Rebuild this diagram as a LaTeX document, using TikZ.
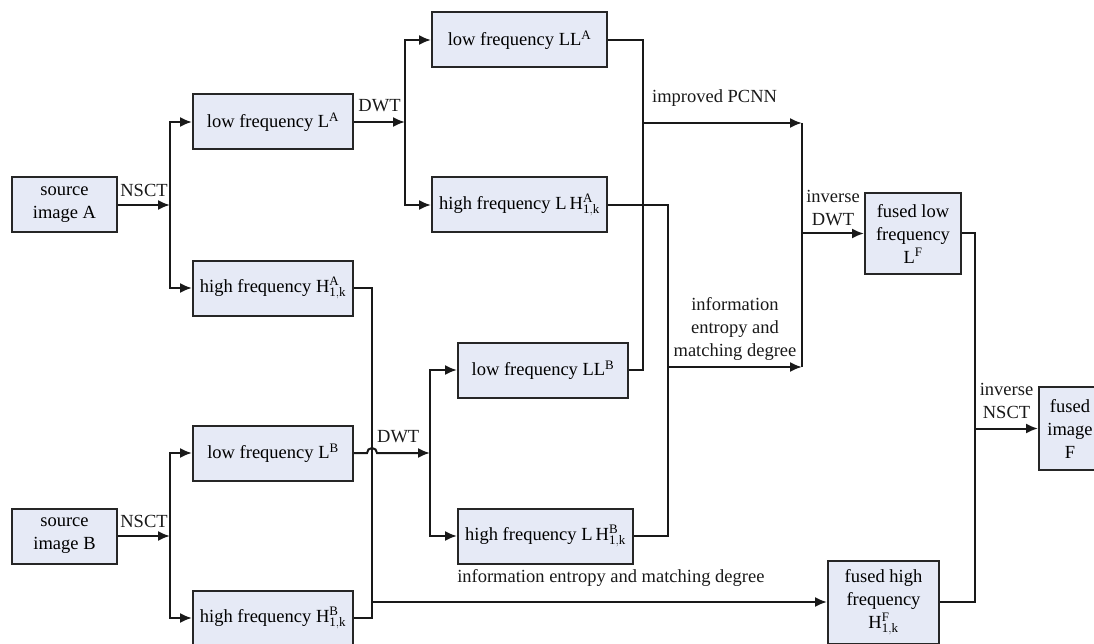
\documentclass[tikz,border=0pt]{standalone}
\usepackage{fontspec}
\setmainfont{Liberation Serif}
\usetikzlibrary{arrows.meta}

\definecolor{boxfill}{RGB}{230,234,246}
\newcommand{\fs}{\fontsize{18.5}{23}\selectfont}
\newcommand{\hk}[2]{$\mathrm{#1}^{\mathrm{#2}}_{\mathrm{1,k}}$}

\begin{document}
\begin{tikzpicture}[
        x=1pt, y=-1pt,
        block/.style = {draw=black!85, fill=boxfill, line width=2pt, minimum width=#1, minimum height=55pt, inner sep=1pt, align=center, font=\fs},
        block/.default = 160pt,
        wire/.style = {line width=2pt, black!90},
        lbl/.style = {font=\fs, align=center, inner sep=1pt, anchor=south, yshift=#1},
        lbl/.default = 6pt,
        >={Latex[length=12pt, width=10pt]}
        ]
        \useasboundingbox (0,0) rectangle (1094,644);

        % sources and NSCT bands
        \node (srcA) at (64.5,205)  [block=105pt] {source\\image A};
        \node (srcB) at (64.5,536)  [block=105pt] {source\\image B};
        \node (LA)   at (273,122)   [block] {low frequency L$^{\mathrm{A}}$};
        \node (HA)   at (273,288)   [block] {high frequency \hk{H}{A}};
        \node (LB)   at (273,453)   [block] {low frequency L$^{\mathrm{B}}$};
        \node (HB)   at (273,618)   [block] {high frequency \hk{H}{B}};

        % DWT bands
        \node (LLA)  at (519.5,40)  [block=175pt] {low frequency LL$^{\mathrm{A}}$};
        \node (LHA)  at (519.5,205) [block=175pt] {high frequency L\,\hk{H}{A}};
        \node (LLB)  at (543,370)   [block=170pt] {low frequency LL$^{\mathrm{B}}$};
        \node (LHB)  at (545.5,536) [block=175pt] {high frequency L\,\hk{H}{B}};

        % fused results
        \node (LF)   at (913,233.5) [block=96pt, minimum height=81pt] {fused low\\frequency\\L$^{\mathrm{F}}$};
        \node (HF)   at (883.5,602) [block=111pt, minimum height=83pt] {fused high\\frequency\\\hk{H}{F}};
        \node (F)    at (1070,428.5) [block=62pt, minimum height=83pt] {fused\\image\\F};

        % junctions
        \coordinate (nA)  at (170,205);
        \coordinate (nB)  at (170,536);
        \coordinate (dA)  at (405,122);
        \coordinate (dB)  at (430,453);
        \coordinate (jB)  at (372,453);
        \coordinate (cLL) at (643,123);
        \coordinate (cLH) at (668,367);
        \coordinate (cH)  at (372,602);
        \coordinate (pIn) at (802,123);
        \coordinate (eIn) at (802,367);
        \coordinate (iD)  at (802,233.5);
        \coordinate (cF)  at (975,428.5);

        % NSCT
        \draw[wire, ->] (srcA) -- (nA) node[lbl, midway] (tNA) {NSCT};
        \draw[wire, ->] (nA) |- (LA);
        \draw[wire, ->] (nA) |- (HA);
        \draw[wire, ->] (srcB) -- (nB) node[lbl, midway] (tNB) {NSCT};
        \draw[wire, ->] (nB) |- (LB);
        \draw[wire, ->] (nB) |- (HB);

        % DWT
        \draw[wire, ->] (LA) -- (dA) node[lbl=8pt, midway] (tDA) {DWT};
        \draw[wire, ->] (dA) |- (LLA);
        \draw[wire, ->] (dA) |- (LHA);
        \draw[wire, ->] (LB) -- ([xshift=-5pt]jB) arc[start angle=180, end angle=0, radius=5pt] -- (dB) node[lbl=8pt, pos=0.4] (tDB) {DWT};
        \draw[wire, ->] (dB) |- (LLB);
        \draw[wire, ->] (dB) |- (LHB);

        % fusion rules
        \draw[wire] (LLA) -| (cLL);
        \draw[wire] (LLB) -| (cLL);
        \draw[wire, ->] (cLL) -- (pIn) node[lbl=15pt, pos=0.45] (tPC) {improved PCNN};
        \draw[wire] (LHA) -| (cLH);
        \draw[wire] (LHB) -| (cLH);
        \draw[wire, ->] (cLH) -- (eIn) node[lbl=5pt, midway] (tIE) {information\\entropy and\\matching degree};
        \draw[wire] (HA) -| (cH);
        \draw[wire] (HB) -| (cH);
        \draw[wire, ->] (cH) -- (HF) node[lbl=14pt, pos=0.525] (tIH) {information entropy and matching degree};

        % inverse transforms
        \draw[wire] (pIn) -- (eIn);
        \draw[wire, ->] (iD) -- (LF) node[lbl, midway] (tID) {inverse\\DWT};
        \draw[wire] (LF) -| (cF);
        \draw[wire] (HF) -| (cF);
        \draw[wire, ->] (cF) -- (F) node[lbl=8pt, midway] (tIN) {inverse\\NSCT};
\end{tikzpicture}
\end{document}
